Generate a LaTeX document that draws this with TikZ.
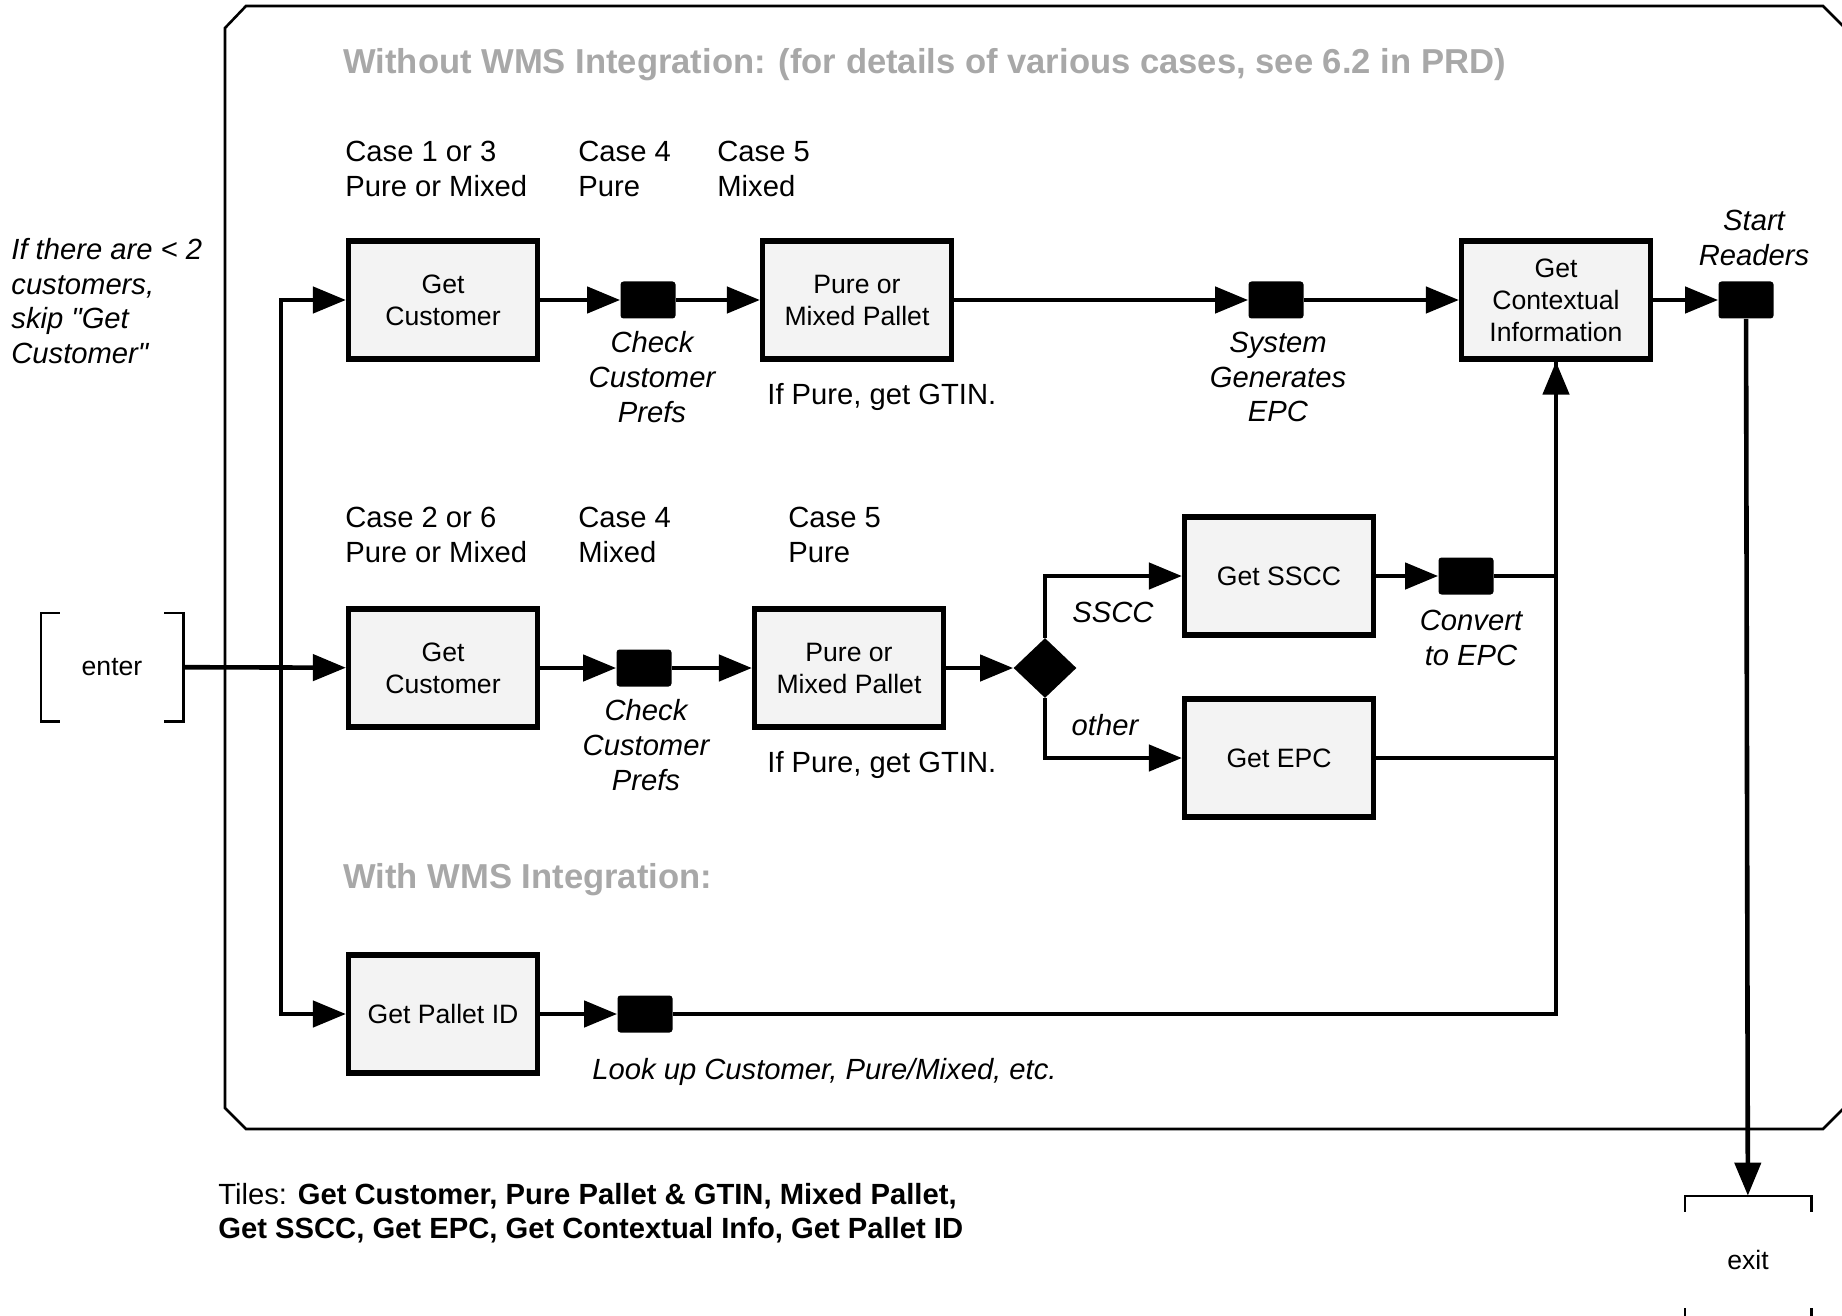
\documentclass[tikz,border=0pt]{standalone}
\usepackage{fontspec}
\setmainfont{Liberation Sans}
\usepackage{xcolor}
\definecolor{ColBlack}{RGB}{0,0,0}
\definecolor{ColGray}{RGB}{168,168,168}
\definecolor{ColFill}{RGB}{243,243,243}
\usepackage{tikz}
\usetikzlibrary{shapes.geometric}
\usetikzlibrary{arrows.meta}
\tikzstyle{Box}=[ColBlack!100,draw,line width=2.6pt,fill=ColFill,text=ColBlack,
    minimum width=94.5pt,minimum height=59pt,align=center,
    font=\fontsize{13.3}{16}\selectfont]
\tikzstyle{Block}=[fill=ColBlack,rounded corners=1.5pt,inner sep=0pt,
    minimum width=27.5pt,minimum height=18.5pt]
\tikzstyle{Decision}=[diamond,fill=ColBlack,inner sep=0pt,
    minimum width=31.5pt,minimum height=30pt]
\tikzstyle{Bracket}=[inner sep=0pt,font=\fontsize{13.3}{16}\selectfont]
\tikzstyle{Label}=[inner sep=0pt,align=left,anchor=west,
    font=\fontsize{14.6}{17.3}\selectfont]
\tikzstyle{Note}=[inner sep=0pt,align=center,
    font=\fontsize{14.6}{17.3}\selectfont\itshape]
\tikzstyle{Title}=[inner sep=0pt,anchor=west,text=ColGray,
    font=\fontsize{17.3}{20}\selectfont\bfseries]
\tikzstyle{Frame}=[ColBlack!100,draw,line width=1.3pt]
\tikzstyle{Edge}=[ColBlack!100,draw,line width=1.1pt]
\tikzstyle{Line}=[ColBlack!100,draw,line width=2.3pt]
\tikzstyle{Map}=[ColBlack!100,draw,line width=2.3pt,
    -{Triangle[length=16.5pt,width=13pt]}]

\begin{document}
\begin{tikzpicture}[x=0.5pt,y=-0.5pt]
    \useasboundingbox(0,0)rectangle(1842,1316);
    \clip(0,0)rectangle(1842,1316);
    \draw[Frame](225,28)--(246,6)--(1823,6)--(1854,37)--(1854,1098)
        --(1823,1129)--(246,1129)--(225,1108)--cycle;
    % entry and exit
    \node[Bracket,minimum width=71pt,minimum height=54pt](enter)at(112,667){enter};
    \draw[Edge]([xshift=9.5pt]enter.north west)--(enter.north west)
        --(enter.south west)--++(19,0);
    \draw[Edge]([xshift=-9.5pt]enter.north east)--(enter.north east)
        --(enter.south east)--++(-19,0);
    \node[Bracket,minimum width=63pt,minimum height=64pt](exit)at(1748,1260){exit};
    \draw[Edge]([yshift=-8pt]exit.north west)--(exit.north west)
        --(exit.north east)--++(0,16);
    \draw[Edge]([yshift=8pt]exit.south west)--(exit.south west)
        --(exit.south east)--++(0,-16);
    % without WMS
    \node[Title](without)at(343,65)
        {Without WMS Integration: (for details of various cases, see 6.2 in PRD)};
    \node[Label](case13)at(345,169){Case 1 or 3\\Pure or Mixed};
    \node[Label](case4p)at(578,169){Case 4\\Pure};
    \node[Label](case5m)at(717,169){Case 5\\Mixed};
    \node[Note,align=left,anchor=west](skip)at(11,301)
        {If there are < 2\\customers,\\skip \textquotedbl Get\\Customer\textquotedbl};
    \node[Box](GC1)at(443,300){Get\\Customer};
    \node[Block](check1)at(648,300){};
    \node[Note](check1lbl)at(652,377){Check\\Customer\\Prefs};
    \node[Box](PM1)at(857,300){Pure or\\Mixed Pallet};
    \node[Label](gtin1)at(767,397){If Pure, get GTIN.};
    \node[Block](sysepc)at(1276,300){};
    \node[Note](sysepclbl)at(1278,377){System\\Generates\\EPC};
    \node[Box](ctx)at(1556,300){Get\\Contextual\\Information};
    \node[Block](start)at(1746,300){};
    \node[Note](startlbl)at(1754,238){Start\\Readers};
    \node[Label](case26)at(345,535){Case 2 or 6\\Pure or Mixed};
    \node[Label](case4m)at(578,535){Case 4\\Mixed};
    \node[Label](case5p)at(788,535){Case 5\\Pure};
    \node[Box](GC2)at(443,668){Get\\Customer};
    \node[Block](check2)at(644,668){};
    \node[Note](check2lbl)at(646,745){Check\\Customer\\Prefs};
    \node[Box](PM2)at(849,668){Pure or\\Mixed Pallet};
    \node[Label](gtin2)at(767,765){If Pure, get GTIN.};
    \node[Decision](dec)at(1045,668){};
    \node[Note](sscclbl)at(1113,612){SSCC};
    \node[Note](otherlbl)at(1105,725){other};
    \node[Box](sscc)at(1279,576){Get SSCC};
    \node[Box](epc)at(1279,758){Get EPC};
    \node[Block](conv)at(1466,576){};
    \node[Note](convlbl)at(1471,638){Convert\\to EPC};
    % with WMS
    \node[Title](with)at(343,880){With WMS Integration:};
    \node[Box](pid)at(443,1014){Get Pallet ID};
    \node[Block](lookup)at(645,1014){};
    \node[Note,anchor=west](lookuplbl)at(592,1072){Look up Customer, Pure/Mixed, etc.};
    \node[Label](tiles)at(218,1213){Tiles: \textbf{Get Customer, Pure Pallet \& GTIN, Mixed Pallet,}\\
        \textbf{Get SSCC, Get EPC, Get Contextual Info, Get Pallet ID}};
    % connectors
    \coordinate(split)at(281,668);
    \draw[Map](enter)--(GC2);
    \draw[Map](split)|-(GC1);
    \draw[Map](split)|-(pid);
    \draw[Map](GC1)--(check1);
    \draw[Map](check1)--(PM1);
    \draw[Map](PM1)--(sysepc);
    \draw[Map](sysepc)--(ctx);
    \draw[Map](ctx)--(start);
    \draw[Map](start)--(exit);
    \draw[Map](GC2)--(check2);
    \draw[Map](check2)--(PM2);
    \draw[Map](PM2)--(dec);
    \draw[Map](dec)|-(sscc);
    \draw[Map](dec)|-(epc);
    \draw[Map](sscc)--(conv);
    \draw[Line](conv)-|(ctx);
    \draw[Line](epc)-|(ctx);
    \draw[Map](pid)--(lookup);
    \draw[Map](lookup)-|(ctx);
\end{tikzpicture}
\end{document}
